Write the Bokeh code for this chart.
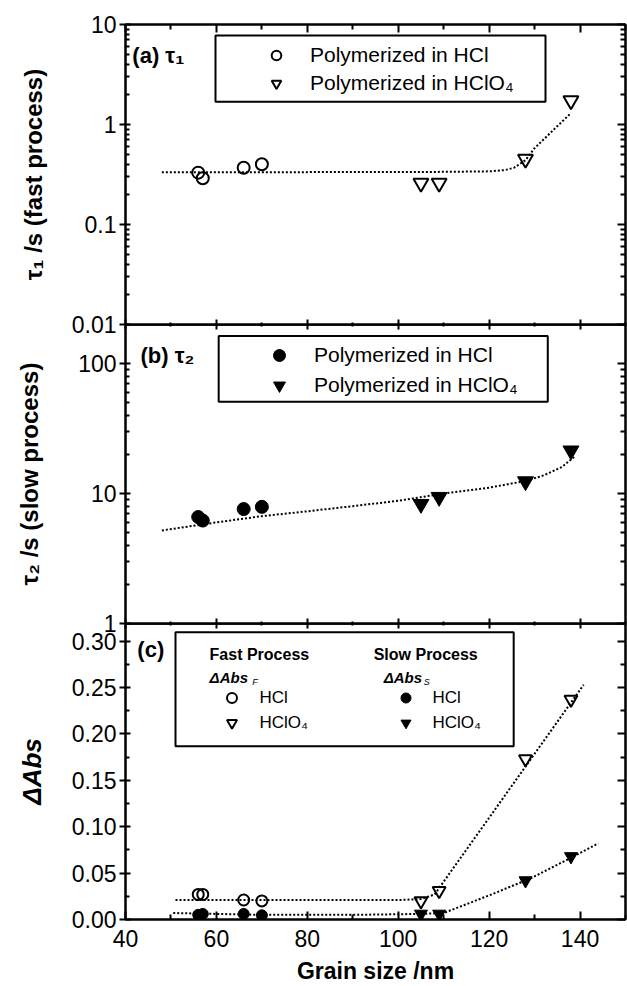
from bokeh.layouts import column
from bokeh.models import (BoxAnnotation, FixedTicker, Label, Legend, LegendItem,
                          LinearAxis, NumeralTickFormatter, Range1d)
from bokeh.plotting import figure
from bokeh.embed import file_html
from bokeh.resources import INLINE

# ---------------- data ----------------
# grain size (nm) of the films polymerized in each acid
size_hcl = [56, 57, 66, 70]
size_hclo4 = [105, 109, 128, 138]

# (a) fast time constant tau1 (s)
tau1_hcl = [0.33, 0.29, 0.37, 0.40]
tau1_hclo4 = [0.26, 0.26, 0.45, 1.73]
fit1_x = [48, 80, 110, 120, 123.5, 125.5, 128, 130, 134, 138]
fit1_y = [0.334, 0.334, 0.336, 0.34, 0.35, 0.37, 0.44, 0.58, 0.87, 1.3]

# (b) slow time constant tau2 (s)
tau2_hcl = [6.6, 6.2, 7.6, 7.9]
tau2_hclo4 = [8.3, 9.4, 12.4, 21.4]
fit2_x = [48, 60, 70, 80, 90, 100, 110, 120, 128, 132, 136, 139]
fit2_y = [5.2, 6.0, 6.7, 7.3, 8.0, 8.8, 10.0, 11.1, 12.5, 13.8, 16.0, 19.5]

# (c) absorbance changes of the fast and slow processes
dabs_f_hcl = [0.027, 0.027, 0.021, 0.020]
dabs_f_hclo4 = [0.020, 0.031, 0.173, 0.237]
dabs_s_hcl = [0.005, 0.006, 0.006, 0.0045]
dabs_s_hclo4 = [0.006, 0.006, 0.042, 0.068]
fitf_x = [51, 100, 105, 108, 140.8]
fitf_y = [0.021, 0.021, 0.022, 0.027, 0.253]
fits_x = [50.5, 70, 90, 105, 110, 120, 129, 137, 144]
fits_y = [0.007, 0.005, 0.005, 0.006, 0.007, 0.026, 0.044, 0.064, 0.082]

x_ticks = [40, 60, 80, 100, 120, 140]
x_minor = [50, 70, 90, 110, 130, 150]
a_ticks = [0.01, 0.1, 1, 10]
b_ticks = [1, 10, 100]
c_ticks = [0.00, 0.05, 0.10, 0.15, 0.20, 0.25, 0.30]
c_minor = [0.025, 0.075, 0.125, 0.175, 0.225, 0.275]

# ---------------- styling ----------------
FONT = "Liberation Sans"
W = 627
LEFT, RIGHT = 125, 2
OV = 14          # neighbouring panels overlap by this much so edge labels are not clipped
TICK_FS = "23px"
TITLE_FS = "24px"

x_range = Range1d(40, 150)


def log_minor(decades):
    return [m * d for d in decades for m in range(2, 10)]


def dress(ax, tin, tout, mtin, mtout, labelled=True):
    ax.axis_line_width = 2
    ax.axis_line_color = "black"
    ax.major_tick_line_width = 2
    ax.minor_tick_line_width = 2
    ax.major_tick_line_color = "black"
    ax.minor_tick_line_color = "black"
    ax.major_tick_in = tin
    ax.major_tick_out = tout
    ax.minor_tick_in = mtin
    ax.minor_tick_out = mtout
    ax.major_label_text_font = FONT
    ax.major_label_text_font_size = TICK_FS
    ax.major_label_text_color = "black"
    if not labelled:
        # tick marks only: the labels get no size and no colour
        ax.major_label_standoff = 0
        ax.major_label_text_font_size = "0px"
        ax.major_label_text_color = None


def panel(height, y_type, y_range, top, bottom):
    p = figure(width=W, height=height, x_range=x_range, y_range=y_range,
               y_axis_type=y_type, x_axis_location=None, y_axis_location=None,
               output_backend="svg", toolbar_location=None,
               min_border_left=LEFT, min_border_right=RIGHT,
               min_border_top=top, min_border_bottom=bottom)
    p.background_fill_alpha = 0
    p.border_fill_alpha = 0
    p.outline_line_color = "black"
    p.outline_line_alpha = 1
    p.outline_line_width = 2
    p.grid.visible = False
    return p


def add_frame_axes(p, yticker, yformatter, top_in, bottom_in, bottom_labelled):
    xt = FixedTicker(ticks=x_ticks, minor_ticks=x_minor)
    bx = LinearAxis(ticker=xt)
    dress(bx, bottom_in, 0, bottom_in - 3, 0, labelled=bottom_labelled)
    p.add_layout(bx, "below")
    top = LinearAxis(ticker=xt)
    dress(top, top_in, 0, top_in - 3, 0, labelled=False)
    p.add_layout(top, "above")
    ly = LinearAxis(ticker=yticker, formatter=yformatter)
    dress(ly, 5, 6, 4, 0)
    ly.major_label_standoff = 3
    ly.axis_label_text_font = FONT
    ly.axis_label_text_font_size = TITLE_FS
    ly.axis_label_text_font_style = "bold"
    ly.axis_label_text_color = "black"
    p.add_layout(ly, "left")
    ry = LinearAxis(ticker=yticker)
    dress(ry, 8, 0, 5, 0, labelled=False)
    p.add_layout(ry, "right")
    return bx, ly


def legend(p, items, loc, glyph, spacing, standoff, fs):
    lg = Legend(items=items, location=loc, glyph_width=glyph, glyph_height=glyph,
                label_height=glyph, label_width=10, spacing=spacing, padding=0, margin=0,
                label_standoff=standoff, border_line_color=None,
                background_fill_alpha=0, label_text_font=FONT,
                label_text_font_size=fs, label_text_color="black")
    p.add_layout(lg)


def text(p, x, y, s, fs, style="normal"):
    p.add_layout(Label(x=x, y=y, text=s, text_font=FONT, text_font_size=fs,
                       text_font_style=style, text_color="black", text_baseline="middle",
                       text_align="left"))


def box(p, left, right, bottom, top):
    p.add_layout(BoxAnnotation(left=left, right=right, bottom=bottom, top=top,
                               fill_color=None, fill_alpha=0, line_color="black",
                               line_alpha=1, line_width=2))


dot = dict(line_color="black", line_width=2, line_dash="2 2")
opn = dict(fill_color=None, line_color="black", line_width=2)
fil = dict(fill_color="black", line_color="black", line_width=1)

# ---------------- (a) tau1 ----------------
pa = panel(24 + 300 + OV, "log", Range1d(0.01, 10), 24, OV)
_, ya = add_frame_axes(pa, FixedTicker(ticks=a_ticks, minor_ticks=log_minor([0.01, 0.1, 1])),
                       NumeralTickFormatter(format="0.[00]"), 8, 5, False)
ya.axis_label = "τ₁ /s (fast process)"
ya.axis_label_standoff = 22
pa.line(fit1_x, fit1_y, **dot)
ra1 = pa.scatter(size_hcl, tau1_hcl, marker="circle", size=12, **opn)
ra2 = pa.scatter(size_hclo4, tau1_hclo4, marker="inverted_triangle", size=15, **opn)
box(pa, 59.8, 132.4, 1.69, 7.76)
legend(pa, [LegendItem(label="Polymerized in HCl", renderers=[ra1]),
            LegendItem(label="Polymerized in HClO₄", renderers=[ra2])],
       (139, 229), 24, 4, 22, "21px")
text(pa, 41.5, 4.89, "(a) τ₁", "22px", "bold")

# ---------------- (b) tau2 ----------------
pb = panel(299 + OV, "log", Range1d(1, 200), 0, OV)
pb.margin = (-OV, 0, 0, 0)
_, yb = add_frame_axes(pb, FixedTicker(ticks=b_ticks, minor_ticks=log_minor([1, 10, 100])),
                       NumeralTickFormatter(format="0.[00]"), 5, 5, False)
yb.axis_label = "τ₂ /s (slow process)"
yb.axis_label_standoff = 32
pb.line(fit2_x, fit2_y, **dot)
rb1 = pb.scatter(size_hcl, tau2_hcl, marker="circle", size=13, **fil)
rb2 = pb.scatter(size_hclo4, tau2_hclo4, marker="inverted_triangle", size=16, **fil)
box(pb, 60.5, 132.9, 50.8, 163)
legend(pb, [LegendItem(label="Polymerized in HCl", renderers=[rb1]),
            LegendItem(label="Polymerized in HClO₄", renderers=[rb2])],
       (139, 223), 30, 0, 20, "21px")
text(pb, 43.3, 114.6, "(b) τ₂", "22px", "bold")

# ---------------- (c) delta Abs ----------------
pc = panel(301 + 62, "linear", Range1d(0, 0.319), 0, 62)
pc.margin = (-OV, 0, 0, 0)
xc, yc = add_frame_axes(pc, FixedTicker(ticks=c_ticks, minor_ticks=c_minor),
                        NumeralTickFormatter(format="0.00"), 5, 8, True)
yc.axis_label = "ΔAbs"
yc.axis_label_text_font_style = "bold italic"
yc.axis_label_text_font_size = "26px"
yc.axis_label_standoff = 22
xc.major_label_standoff = 10
xc.axis_label = "Grain size /nm"
xc.axis_label_text_font = FONT
xc.axis_label_text_font_size = "23px"
xc.axis_label_text_font_style = "bold"
xc.axis_label_text_color = "black"
xc.axis_label_standoff = 8
pc.line(fitf_x, fitf_y, **dot)
pc.line(fits_x, fits_y, **dot)
rc1 = pc.scatter(size_hcl, dabs_f_hcl, marker="circle", size=11, **opn)
rc2 = pc.scatter(size_hclo4, dabs_f_hclo4, marker="inverted_triangle", size=13, **opn)
rc3 = pc.scatter(size_hcl, dabs_s_hcl, marker="circle", size=11, **fil)
rc4 = pc.scatter(size_hclo4, dabs_s_hclo4, marker="inverted_triangle", size=13, **fil)
box(pc, 51.0, 125.4, 0.1868, 0.3096)
legend(pc, [LegendItem(label="HCl", renderers=[rc1]),
            LegendItem(label="HClO₄", renderers=[rc2])],
       (93.5, 184), 25, 0, 16, "17px")
legend(pc, [LegendItem(label="HCl", renderers=[rc3]),
            LegendItem(label="HClO₄", renderers=[rc4])],
       (267.5, 184), 25, 0, 15, "17px")
text(pc, 42.6, 0.2906, "(c)", "22px", "bold")
text(pc, 58.5, 0.2853, "Fast Process", "16px", "bold")
text(pc, 94.6, 0.2853, "Slow Process", "16px", "bold")
text(pc, 58.5, 0.261, "ΔAbs", "15px", "bold italic")
text(pc, 67.9, 0.2556, "F", "9px", "italic")
text(pc, 96.8, 0.261, "ΔAbs", "15px", "bold italic")
text(pc, 105.6, 0.2556, "S", "9px", "italic")

layout = column(pa, pb, pc, spacing=0)
open("out.html", "w").write(file_html(layout, INLINE))
